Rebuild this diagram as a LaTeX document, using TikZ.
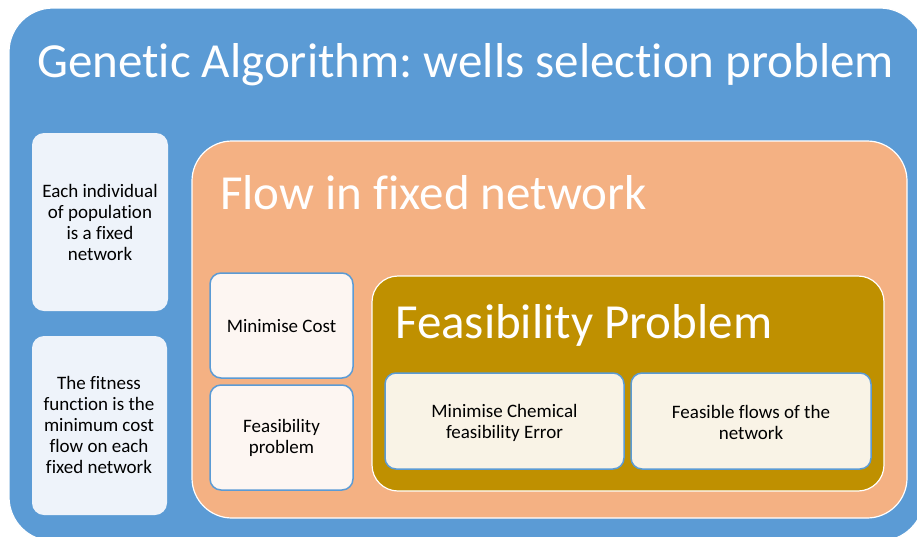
\documentclass[tikz,border=0pt]{standalone}
\usepackage{fontspec}
\setmainfont{Carlito}[Ligatures={NoCommon}]
\frenchspacing
\definecolor{gablue}{HTML}{5B9BD5}
\definecolor{gaorange}{HTML}{F4B183}
\definecolor{gagold}{HTML}{BF9000}
\definecolor{leftfill}{HTML}{EEF3FA}
\definecolor{pinkfill}{HTML}{FDF6F2}
\definecolor{creamfill}{HTML}{F9F3E6}
\tikzset{
  region/.style={draw=white, line width=1.2pt},
  leftbox/.style={fill=leftfill, rounded corners=12pt},
  smallbox/.style={fill=pinkfill, draw=gablue, line width=1.5pt, rounded corners=11pt},
  creambox/.style={fill=creamfill, draw=gablue, line width=1.5pt, rounded corners=11pt},
  heading/.style={text=white, font=\fontsize{49}{52}\selectfont, anchor=base west, inner sep=0pt},
  body/.style={font=\fontsize{19}{21}\selectfont, align=center, text=black},
}
\begin{document}
\begin{tikzpicture}[x=1pt,y=-1pt]
\useasboundingbox (0,0) rectangle (917,536);
\fill[white] (0,0) rectangle (917,536);
% outer blue
\path[region, fill=gablue, rounded corners=44pt] (9,8) rectangle (924,541);
\node[heading] (title) at (37,77) {Genetic Algorithm: wells selection problem};
% left boxes
\path[leftbox] (32,133) rectangle (168,311);
\node[body] (lt1) at (100,222) {Each individual\\of population\\is a fixed\\network};
\path[leftbox] (32,336) rectangle (167,515);
\node[body] (lt2) at (99,425) {The fitness\\function is the\\minimum cost\\flow on each\\fixed network};
% orange region
\path[region, fill=gaorange, rounded corners=40pt] (192,141) rectangle (907,518);
\node[heading] (flow) at (220,209) {Flow in fixed network};
\path[smallbox] (210,273) rectangle (353,378);
\node[body] (mc) at (281.5,326.5) {Minimise Cost};
\path[smallbox] (210,385) rectangle (353,490);
\node[body] (fp) at (281.5,438) {Feasibility\\problem};
% gold region
\path[region, fill=gagold, rounded corners=26pt] (372,276) rectangle (884,491);
\node[heading] (feas) at (395,338) {Feasibility Problem};
\path[creambox] (385,373) rectangle (624,469);
\node[body] (mce) at (504.5,423) {Minimise Chemical\\feasibility Error};
\path[creambox] (631,373) rectangle (871,469);
\node[body] (ffn) at (751,422) {Feasible flows of the\\network};
\end{tikzpicture}
\end{document}
